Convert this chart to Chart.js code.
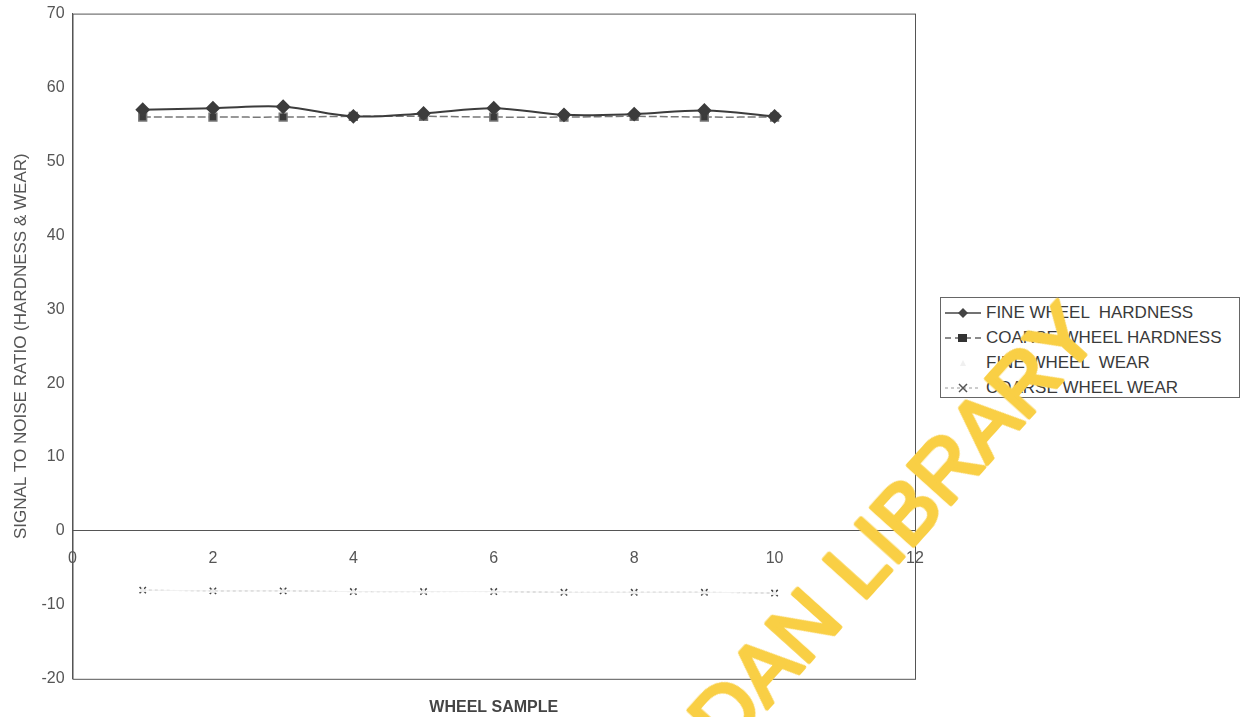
<!DOCTYPE html>
<html>
<head>
<meta charset="utf-8">
<script src="https://cdn.jsdelivr.net/npm/chart.js@4"></script>
<style>
  body { margin: 0; background: #fff; }
  #wrap { position: relative; width: 1247px; height: 717px; overflow: hidden; }
  #legendBox {
    position: absolute; left: 940px; top: 297px; width: 300px; height: 101px;
    border: 1px solid #666; background: #fff; box-sizing: border-box;
    font-family: "Liberation Sans", Arial, sans-serif; font-size: 17px; color: #3a3a3a;
    padding: 2px 0 0 2px; white-space: pre;
  }
  .item { display: flex; align-items: center; height: 25px; }
  .item svg { margin-right: 3px; }
  #stamp { position: absolute; left: 0; top: 0; pointer-events: none; }
</style>
</head>
<body>
<div id="wrap">
  <canvas id="chart" width="1247" height="717"></canvas>
  <div id="legendBox"></div>
  <svg id="stamp" width="1247" height="717">
    <g font-family="Liberation Sans, Arial, sans-serif" font-size="84" fill="#f9cf45" stroke="#f9cf45" stroke-width="4" stroke-linejoin="round">
      <text x="845" y="622" text-anchor="end" transform="rotate(-48 845 622)">IBADAN</text>
      <text x="862" y="603" transform="rotate(-48 862 603)">LIBRARY</text>
    </g>
  </svg>
</div>
<script>
// wheel samples and signal-to-noise values
const samples = [1, 2, 3, 4, 5, 6, 7, 8, 9, 10];
const fineHardness = [57.0, 57.2, 57.4, 56.1, 56.5, 57.2, 56.3, 56.4, 56.9, 56.1];
const coarseHardness = [56.0, 56.0, 56.0, 56.1, 56.1, 56.0, 56.0, 56.1, 56.0, 56.0];
const fineWear = [-8.0, -8.1, -8.1, -8.2, -8.2, -8.2, -8.3, -8.3, -8.3, -8.4];
const coarseWear = [-8.0, -8.1, -8.1, -8.2, -8.2, -8.2, -8.3, -8.3, -8.3, -8.4];
const seriesNames = ["FINE WHEEL  HARDNESS", "COARSE WHEEL HARDNESS", "FINE WHEEL  WEAR", "COARSE WHEEL WEAR"];

const toPoints = (vals) => samples.map((x, i) => ({ x: x, y: vals[i] }));

// Outer box around the plot area
const frame = {
  id: "frame",
  afterDraw(chart) {
    const { ctx, chartArea: a } = chart;
    ctx.save();
    ctx.strokeStyle = "#555";
    ctx.lineWidth = 1;
    ctx.strokeRect(a.left + 0.5, a.top + 0.5, a.right - a.left, a.bottom - a.top);
    ctx.restore();
  }
};

const tickFont = { family: "Liberation Sans", size: 16 };

const ctx = document.getElementById("chart").getContext("2d");
const chart = new Chart(ctx, {
  type: "line",
  data: {
    datasets: [
      {
        label: seriesNames[0],
        data: toPoints(fineHardness),
        borderColor: "#3c3c3c",
        backgroundColor: "#3c3c3c",
        borderWidth: 2,
        pointStyle: "rectRot",
        pointRadius: 6,
        tension: 0.35,
      },
      {
        label: seriesNames[1],
        data: toPoints(coarseHardness),
        borderColor: "#777",
        backgroundColor: "#3a3a3a",
        borderWidth: 1.5,
        borderDash: [8, 3],
        pointStyle: "rect",
        pointRadius: 5.5,
        tension: 0.35,
      },
      {
        label: seriesNames[2],
        data: toPoints(fineWear),
        borderColor: "#f2f2f2",
        backgroundColor: "#eee",
        borderWidth: 1,
        pointStyle: "triangle",
        pointRadius: 3,
        tension: 0.35,
      },
      {
        label: seriesNames[3],
        data: toPoints(coarseWear),
        borderColor: "#999",
        backgroundColor: "#555",
        borderWidth: 1,
        borderDash: [3, 3],
        pointStyle: "crossRot",
        pointRadius: 4.5,
        pointBorderColor: "#444",
        pointBorderWidth: 1.5,
        tension: 0.35,
      },
    ],
  },
  options: {
    responsive: false,
    animation: false,
    layout: { padding: { top: 4, right: 332, left: 7, bottom: 0 } },
    plugins: { legend: { display: false }, tooltip: { enabled: false } },
    scales: {
      x: {
        type: "linear",
        min: 0, max: 12,
        position: { y: 0 },
        ticks: { stepSize: 2, color: "#555", font: tickFont, padding: 14 },
        grid: { display: false, drawTicks: true, tickLength: 4, color: "#555" },
        border: { color: "#555" },
      },
      x2: {
        type: "linear",
        position: "bottom",
        min: 0, max: 12,
        ticks: { display: false },
        grid: { display: false, drawTicks: false },
        border: { display: false },
        title: { display: true, text: "WHEEL SAMPLE", color: "#444", font: { family: "Liberation Sans", size: 16, weight: "bold" }, padding: { top: 19, bottom: 0 } },
      },
      y: {
        min: -20, max: 70,
        ticks: { stepSize: 10, color: "#555", font: tickFont, padding: 4 },
        grid: { display: false, drawTicks: true, tickLength: 4, color: "#555" },
        border: { color: "#555" },
        title: { display: true, text: "SIGNAL TO NOISE RATIO (HARDNESS & WEAR)", color: "#555", font: { family: "Liberation Sans", size: 17 }, padding: { bottom: 6 } },
      },
    },
  },
  plugins: [frame],
});

// HTML legend with a little line + marker sample drawn in svg
const markers = [
  '<line x1="2" y1="8" x2="38" y2="8" stroke="#444" stroke-width="1.5"/><path d="M20 3 L25 8 L20 13 L15 8Z" fill="#444"/>',
  '<line x1="2" y1="8" x2="38" y2="8" stroke="#666" stroke-width="1.5" stroke-dasharray="6 4"/><rect x="15" y="4" width="9" height="8" fill="#333"/>',
  '<path d="M20 5 L23 11 L17 11Z" fill="#f0f0f0"/>',
  '<line x1="2" y1="8" x2="38" y2="8" stroke="#999" stroke-width="1" stroke-dasharray="3 3"/><path d="M16 4 L24 12 M24 4 L16 12" stroke="#555" stroke-width="1.5"/>',
];
const legendBox = document.getElementById("legendBox");
seriesNames.forEach((name, i) => {
  const div = document.createElement("div");
  div.className = "item";
  div.innerHTML = '<svg width="40" height="16">' + markers[i] + "</svg><span>" + name + "</span>";
  legendBox.appendChild(div);
});
</script>
</body>
</html>
